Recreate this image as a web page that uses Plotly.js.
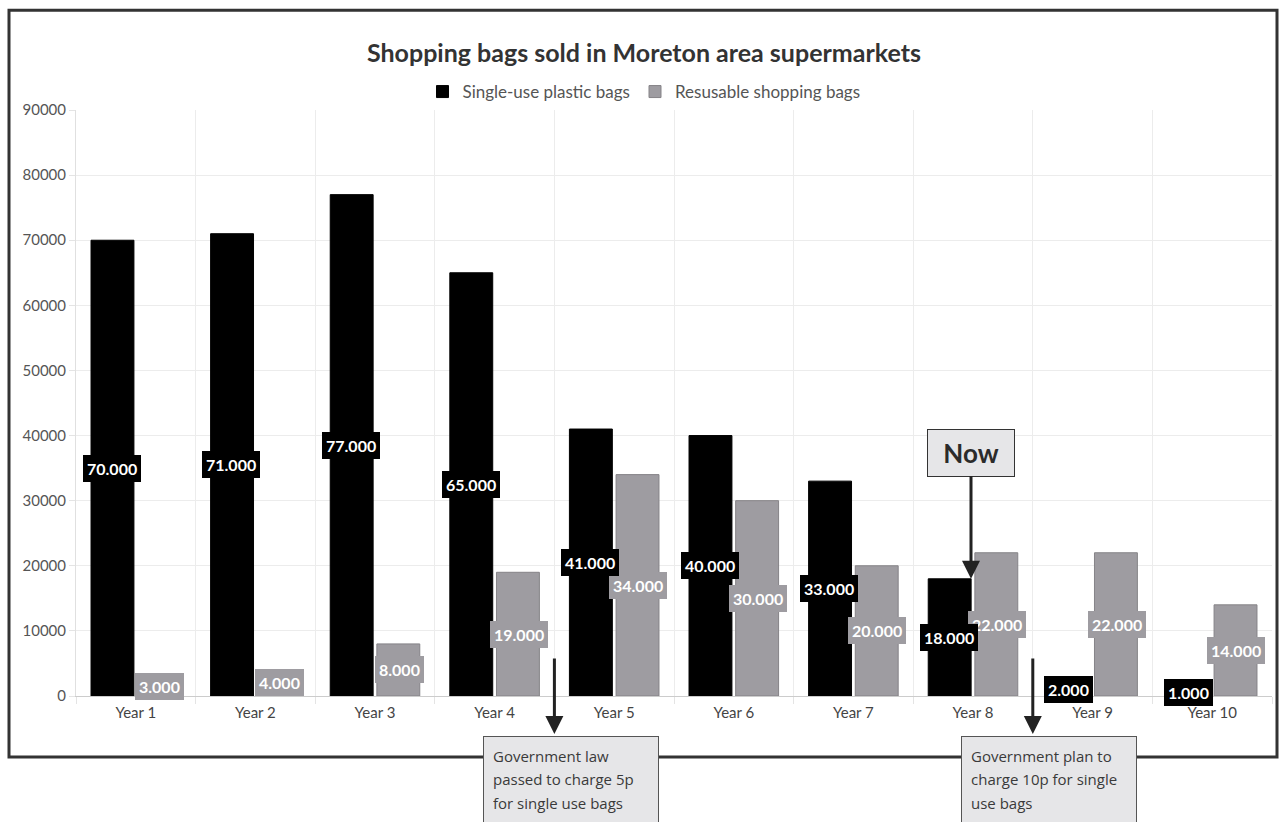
<!DOCTYPE html>
<html>
<head>
<meta charset="utf-8">
<script src="https://cdn.plot.ly/plotly-3.0.1.min.js"></script>
<style>
  html, body { margin: 0; padding: 0; background: #ffffff; }
  #chart { width: 1280px; height: 822px; }
</style>
</head>
<body>
<div id="chart"></div>
<script>
// ---- Data ----
const categories = ["Year 1", "Year 2", "Year 3", "Year 4", "Year 5", "Year 6", "Year 7", "Year 8", "Year 9", "Year 10"];
const singleUse = [70000, 71000, 77000, 65000, 41000, 40000, 33000, 18000, 2000, 1000];
const reusable = [3000, 4000, 8000, 19000, 34000, 30000, 20000, 22000, 22000, 14000];
const seriesNames = ["Single-use plastic bags", "Resusable shopping bags"];
const titleText = "Shopping bags sold in Moreton area supermarkets";
const nowText = "Now";
const note1Lines = ["Government law", "passed to charge 5p", "for single use bags"];
const note2Lines = ["Government plan to", "charge 10p for single", "use bags"];

// ---- Styling ----
const BLACK = "#000000";
const GREY = "#9e9ca1";
const GREY_LINE = "#858387";
const FONT = "Lato, 'Open Sans', sans-serif";

// plot area in pixels
const L = 76, R = 1272, T = 109, B = 696;
const PW = R - L, PH = B - T;
const px2x = p => (p - L) / PW;
const px2y = p => (B - p) / PH;

function fmt(v) {
  return String(v).replace(/\B(?=(\d{3})+(?!\d))/g, ".");
}

const traces = [
  {
    type: "bar", name: seriesNames[0], x: categories, y: singleUse,
    marker: { color: BLACK, line: { color: BLACK, width: 1 } },
    hoverinfo: "skip"
  },
  {
    type: "bar", name: seriesNames[1], x: categories, y: reusable,
    marker: { color: GREY, line: { color: GREY_LINE, width: 1 } },
    hoverinfo: "skip"
  }
];

const annotations = [];
// grey labels first (drawn under the black ones)
reusable.forEach((v, i) => {
  annotations.push({
    x: categories[i], y: v / 2, xref: "x", yref: "y", xshift: 24,
    text: fmt(v), showarrow: false,
    font: { family: FONT, size: 16, color: "#ffffff", weight: "bold" },
    bgcolor: GREY, bordercolor: GREY, borderwidth: 1, borderpad: 3
  });
});
singleUse.forEach((v, i) => {
  annotations.push({
    x: categories[i], y: v / 2, xref: "x", yref: "y", xshift: -24,
    text: fmt(v), showarrow: false,
    font: { family: FONT, size: 16, color: "#ffffff", weight: "bold" },
    bgcolor: BLACK, bordercolor: BLACK, borderwidth: 1, borderpad: 3
  });
});

// "Now" call-out
annotations.push({
  x: categories[7], y: singleUse[7], xref: "x", yref: "y", xshift: -2,
  text: "<b>" + nowText + "</b>", showarrow: true,
  ax: 0, ay: -126, axref: "pixel", ayref: "pixel",
  arrowhead: 2, arrowsize: 1.2, arrowwidth: 3, arrowcolor: "#222222", standoff: 0,
  font: { family: FONT, size: 26, color: "#2b2b2b" },
  bgcolor: "#e6e6e8", bordercolor: "#333333", borderwidth: 1, borderpad: 4,
  width: 78, height: 38
});

// arrows pointing to the note boxes
[3.5, 7.5].forEach(xv => {
  annotations.push({
    x: xv, xref: "x", y: px2y(734), yref: "paper",
    text: "", showarrow: true, ax: 0, ay: -77, axref: "pixel", ayref: "pixel",
    arrowhead: 2, arrowsize: 1.2, arrowwidth: 3, arrowcolor: "#222222", standoff: 0
  });
});

// note boxes
[[483, note1Lines], [961, note2Lines]].forEach(([left, lines]) => {
  annotations.push({
    x: px2x(left), xref: "paper", xanchor: "left",
    y: px2y(736), yref: "paper", yanchor: "top",
    text: lines.map(s => '<span style="font-size:15px">' + s + '</span>').join("<br>"),
    showarrow: false, align: "left", valign: "top",
    width: 156, height: 110,
    font: { family: "'Open Sans', sans-serif", size: 18, color: "#3a3a3a" },
    bgcolor: "#e6e6e8", bordercolor: "#555555", borderwidth: 1, borderpad: 9
  });
});

const layout = {
  width: 1280, height: 822,
  margin: { l: L, r: 1280 - R, t: T, b: 822 - B, pad: 0 },
  paper_bgcolor: "#ffffff", plot_bgcolor: "#ffffff",
  font: { family: FONT, color: "#555555", size: 15 },
  title: {
    text: "<b>" + titleText + "</b>",
    x: 644 / 1280, xref: "container", xanchor: "center",
    y: 1 - 53 / 822, yref: "container", yanchor: "middle",
    font: { family: FONT, size: 25, color: "#333333" }
  },
  showlegend: true,
  legend: {
    orientation: "h", xref: "container", yref: "container",
    x: 644 / 1280, xanchor: "center", y: 1 - 92 / 822, yanchor: "middle",
    font: { family: FONT, size: 17, color: "#555555" },
    itemwidth: 30, traceorder: "normal", bgcolor: "rgba(0,0,0,0)"
  },
  barmode: "group", bargap: 0.22, bargroupgap: 0.08,
  xaxis: {
    type: "category", tickson: "boundaries",
    showgrid: true, gridcolor: "#ececec", gridwidth: 1,
    showline: true, linecolor: "#cccccc", linewidth: 1,
    ticks: "outside", ticklen: 7, tickcolor: "#e4e4e4",
    ticklabelstandoff: 3,
    tickfont: { family: FONT, size: 15, color: "#444444" },
    fixedrange: true
  },
  yaxis: {
    range: [0, 90000], dtick: 10000, tickformat: "d",
    showgrid: true, gridcolor: "#ececec", gridwidth: 1,
    zeroline: false,
    showline: true, linecolor: "#e0e0e0", linewidth: 1,
    ticks: "outside", ticklen: 6, tickcolor: "#e4e4e4",
    tickfont: { family: FONT, size: 15, color: "#555555" },
    fixedrange: true
  },
  shapes: [{
    type: "rect", xref: "paper", yref: "paper",
    x0: px2x(9), x1: px2x(1277), y0: px2y(757), y1: px2y(9),
    line: { color: "#333333", width: 3 }, fillcolor: "rgba(0,0,0,0)", layer: "above"
  }],
  annotations: annotations
};

Plotly.newPlot("chart", traces, layout, { displayModeBar: false, staticPlot: true });
</script>
</body>
</html>
